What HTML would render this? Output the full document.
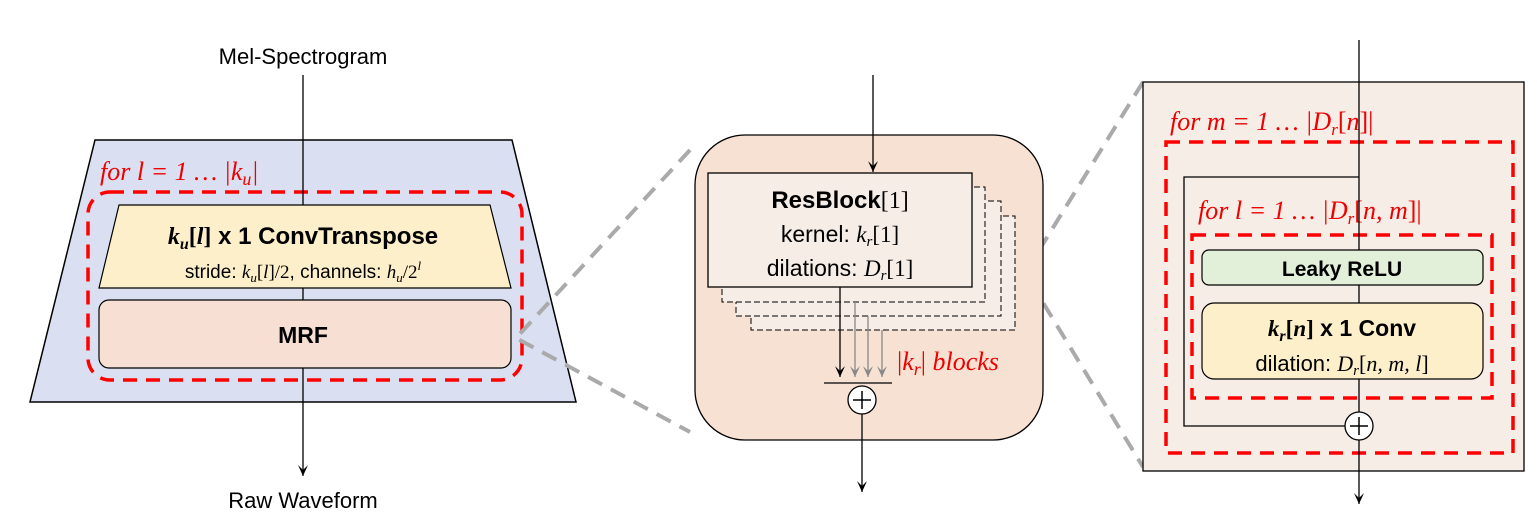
<!DOCTYPE html>
<html><head><meta charset="utf-8"><style>
body{margin:0;background:#fff}
svg{display:block}
.t{font-family:"Liberation Sans",sans-serif}
.m{font-family:"Liberation Serif",serif;font-style:italic}
</style></head><body>
<svg width="1537" height="531" viewBox="0 0 1537 531" xmlns="http://www.w3.org/2000/svg">
<defs>
<marker id="ab" markerWidth="12" markerHeight="10" refX="11" refY="5" orient="auto" markerUnits="userSpaceOnUse"><path d="M0,0 L11,5 L0,10 L5,5 Z" fill="#000"/></marker>
<marker id="ag" markerWidth="12" markerHeight="10" refX="11" refY="5" orient="auto" markerUnits="userSpaceOnUse"><path d="M0,0 L11,5 L0,10 L5,5 Z" fill="#888"/></marker>
</defs>
<!-- LEFT -->
<text x="303" y="64" text-anchor="middle" class="t" font-size="22">Mel-Spectrogram</text>
<polygon points="95,140 512,140 576,402 30,402" fill="#dae0f1" stroke="#000" stroke-width="1.5"/>
<text x="100" y="180" fill="#e00" font-size="26" class="m">for  l = 1 … |k<tspan font-size="18" dy="5">u</tspan><tspan dy="-5">|</tspan></text>
<rect x="88" y="192" width="434" height="188" rx="22" fill="none" stroke="#f00" stroke-width="3.5" stroke-dasharray="14,9"/>
<polygon points="119,205 490,205 511,288 99,288" fill="#fdefc9" stroke="#000" stroke-width="1.2"/>
<text x="303" y="244" text-anchor="middle" font-size="24" font-weight="bold" class="t"><tspan class="m">k<tspan font-size="16" dy="5">u</tspan><tspan dy="-5" font-style="normal">[</tspan>l<tspan font-style="normal">]</tspan></tspan> x 1  ConvTranspose</text>
<text x="303" y="278" text-anchor="middle" font-size="19" class="t">stride: <tspan class="m">k<tspan font-size="13" dy="4">u</tspan><tspan dy="-4" font-style="normal">[</tspan>l<tspan font-style="normal">]/2</tspan></tspan>, channels: <tspan class="m">h<tspan font-size="13" dy="4">u</tspan><tspan dy="-4" font-style="normal">/2</tspan><tspan font-size="13" dy="-8">l</tspan></tspan></text>
<rect x="99" y="300" width="412" height="68" rx="10" fill="#f7e0d3" stroke="#000" stroke-width="1.2"/>
<text x="303" y="343" text-anchor="middle" font-size="23" font-weight="bold" class="t">MRF</text>
<line x1="303" y1="75" x2="303" y2="205" stroke="#000" stroke-width="1.3"/>
<line x1="303" y1="288" x2="303" y2="300" stroke="#000" stroke-width="1.3"/>
<line x1="303" y1="368" x2="303" y2="476" stroke="#000" stroke-width="1.3" marker-end="url(#ab)"/>
<text x="303" y="508" text-anchor="middle" class="t" font-size="22">Raw Waveform</text>
<!-- gray zoom lines -->
<polyline points="690,150 516,338 690,432" fill="none" stroke="#aaa" stroke-width="4" stroke-dasharray="16,10"/>
<polyline points="1143,82 1025,273 1143,467" fill="none" stroke="#aaa" stroke-width="4" stroke-dasharray="16,10"/>
<!-- MIDDLE -->
<rect x="695" y="135" width="348" height="305" rx="50" fill="#f7e1d3" stroke="#000" stroke-width="1.3"/>
<rect x="751" y="216" width="264" height="114" fill="#f5ede6" stroke="#000" stroke-width="1" stroke-dasharray="6,3"/>
<rect x="736" y="201" width="265" height="115" fill="#f5ede6" stroke="#000" stroke-width="1" stroke-dasharray="6,3"/>
<rect x="722" y="187" width="263" height="115" fill="#f5ede6" stroke="#000" stroke-width="1" stroke-dasharray="6,3"/>
<rect x="708" y="173" width="264" height="114" fill="#f5ede6" stroke="#000" stroke-width="1.3"/>
<line x1="873" y1="75" x2="873" y2="172" stroke="#000" stroke-width="1.3" marker-end="url(#ab)"/>
<text x="840" y="208" text-anchor="middle" font-size="24" class="t"><tspan font-weight="bold">ResBlock</tspan><tspan font-family="Liberation Serif">[1]</tspan></text>
<text x="840" y="242" text-anchor="middle" font-size="23" class="t">kernel: <tspan class="m">k<tspan font-size="15" dy="4">r</tspan><tspan dy="-4" font-style="normal">[1]</tspan></tspan></text>
<text x="840" y="276" text-anchor="middle" font-size="23" class="t">dilations: <tspan class="m">D<tspan font-size="15" dy="4">r</tspan><tspan dy="-4" font-style="normal">[1]</tspan></tspan></text>
<line x1="840" y1="287" x2="840" y2="377" stroke="#000" stroke-width="1.3" marker-end="url(#ab)"/>
<line x1="855" y1="302" x2="855" y2="377" stroke="#888" stroke-width="1.3" marker-end="url(#ag)"/>
<line x1="868" y1="316" x2="868" y2="377" stroke="#888" stroke-width="1.3" marker-end="url(#ag)"/>
<line x1="882" y1="330" x2="882" y2="377" stroke="#888" stroke-width="1.3" marker-end="url(#ag)"/>
<line x1="824" y1="383" x2="892" y2="383" stroke="#000" stroke-width="1.3"/>
<circle cx="862" cy="400" r="14" fill="#fff" stroke="#000" stroke-width="1.3"/>
<path d="M853,400 H871 M862,391 V409" stroke="#000" stroke-width="1.5"/>
<line x1="862" y1="414" x2="862" y2="492" stroke="#000" stroke-width="1.3" marker-end="url(#ab)"/>
<text x="897" y="370" fill="#e00" font-size="26" class="m"><tspan font-style="normal">|</tspan>k<tspan font-size="18" dy="5">r</tspan><tspan dy="-5" font-style="normal">|</tspan> blocks</text>
<!-- RIGHT -->
<rect x="1143" y="82" width="381" height="389" fill="#f5ede6" stroke="#000" stroke-width="1.3"/>
<text x="1170" y="130" fill="#e00" font-size="26" class="m">for  m = 1 … |D<tspan font-size="17" dy="5">r</tspan><tspan dy="-5" font-style="normal">[</tspan>n<tspan font-style="normal">]|</tspan></text>
<rect x="1166" y="142" width="347" height="311" fill="none" stroke="#f00" stroke-width="3.5" stroke-dasharray="14,9"/>
<polyline points="1359,177 1184,177 1184,426 1345,426" fill="none" stroke="#000" stroke-width="1.3"/>
<text x="1198" y="219" fill="#e00" font-size="26" class="m">for  l = 1 … |D<tspan font-size="17" dy="5">r</tspan><tspan dy="-5" font-style="normal">[</tspan>n, m<tspan font-style="normal">]|</tspan></text>
<rect x="1192" y="235" width="300" height="163" fill="none" stroke="#f00" stroke-width="3.5" stroke-dasharray="14,9"/>
<line x1="1359" y1="40" x2="1359" y2="504" stroke="#000" stroke-width="1.3" marker-end="url(#ab)"/>
<rect x="1202" y="250" width="281" height="35" rx="7" fill="#e2efd9" stroke="#000" stroke-width="1.2"/>
<text x="1342" y="276" text-anchor="middle" font-size="21" font-weight="bold" class="t">Leaky ReLU</text>
<rect x="1202" y="303" width="281" height="76" rx="12" fill="#fdefc9" stroke="#000" stroke-width="1.2"/>
<text x="1342" y="336" text-anchor="middle" font-size="23" font-weight="bold" class="t"><tspan class="m">k<tspan font-size="16" dy="5">r</tspan><tspan dy="-5" font-style="normal">[</tspan>n<tspan font-style="normal">]</tspan></tspan> x 1  Conv</text>
<text x="1342" y="371" text-anchor="middle" font-size="22" class="t">dilation: <tspan class="m">D<tspan font-size="15" dy="4">r</tspan><tspan dy="-4" font-style="normal">[</tspan>n, m, l<tspan font-style="normal">]</tspan></tspan></text>
<circle cx="1359" cy="426" r="14" fill="#fff" stroke="#000" stroke-width="1.3"/>
<path d="M1350,426 H1368 M1359,417 V435" stroke="#000" stroke-width="1.5"/>
</svg>
</body></html>
